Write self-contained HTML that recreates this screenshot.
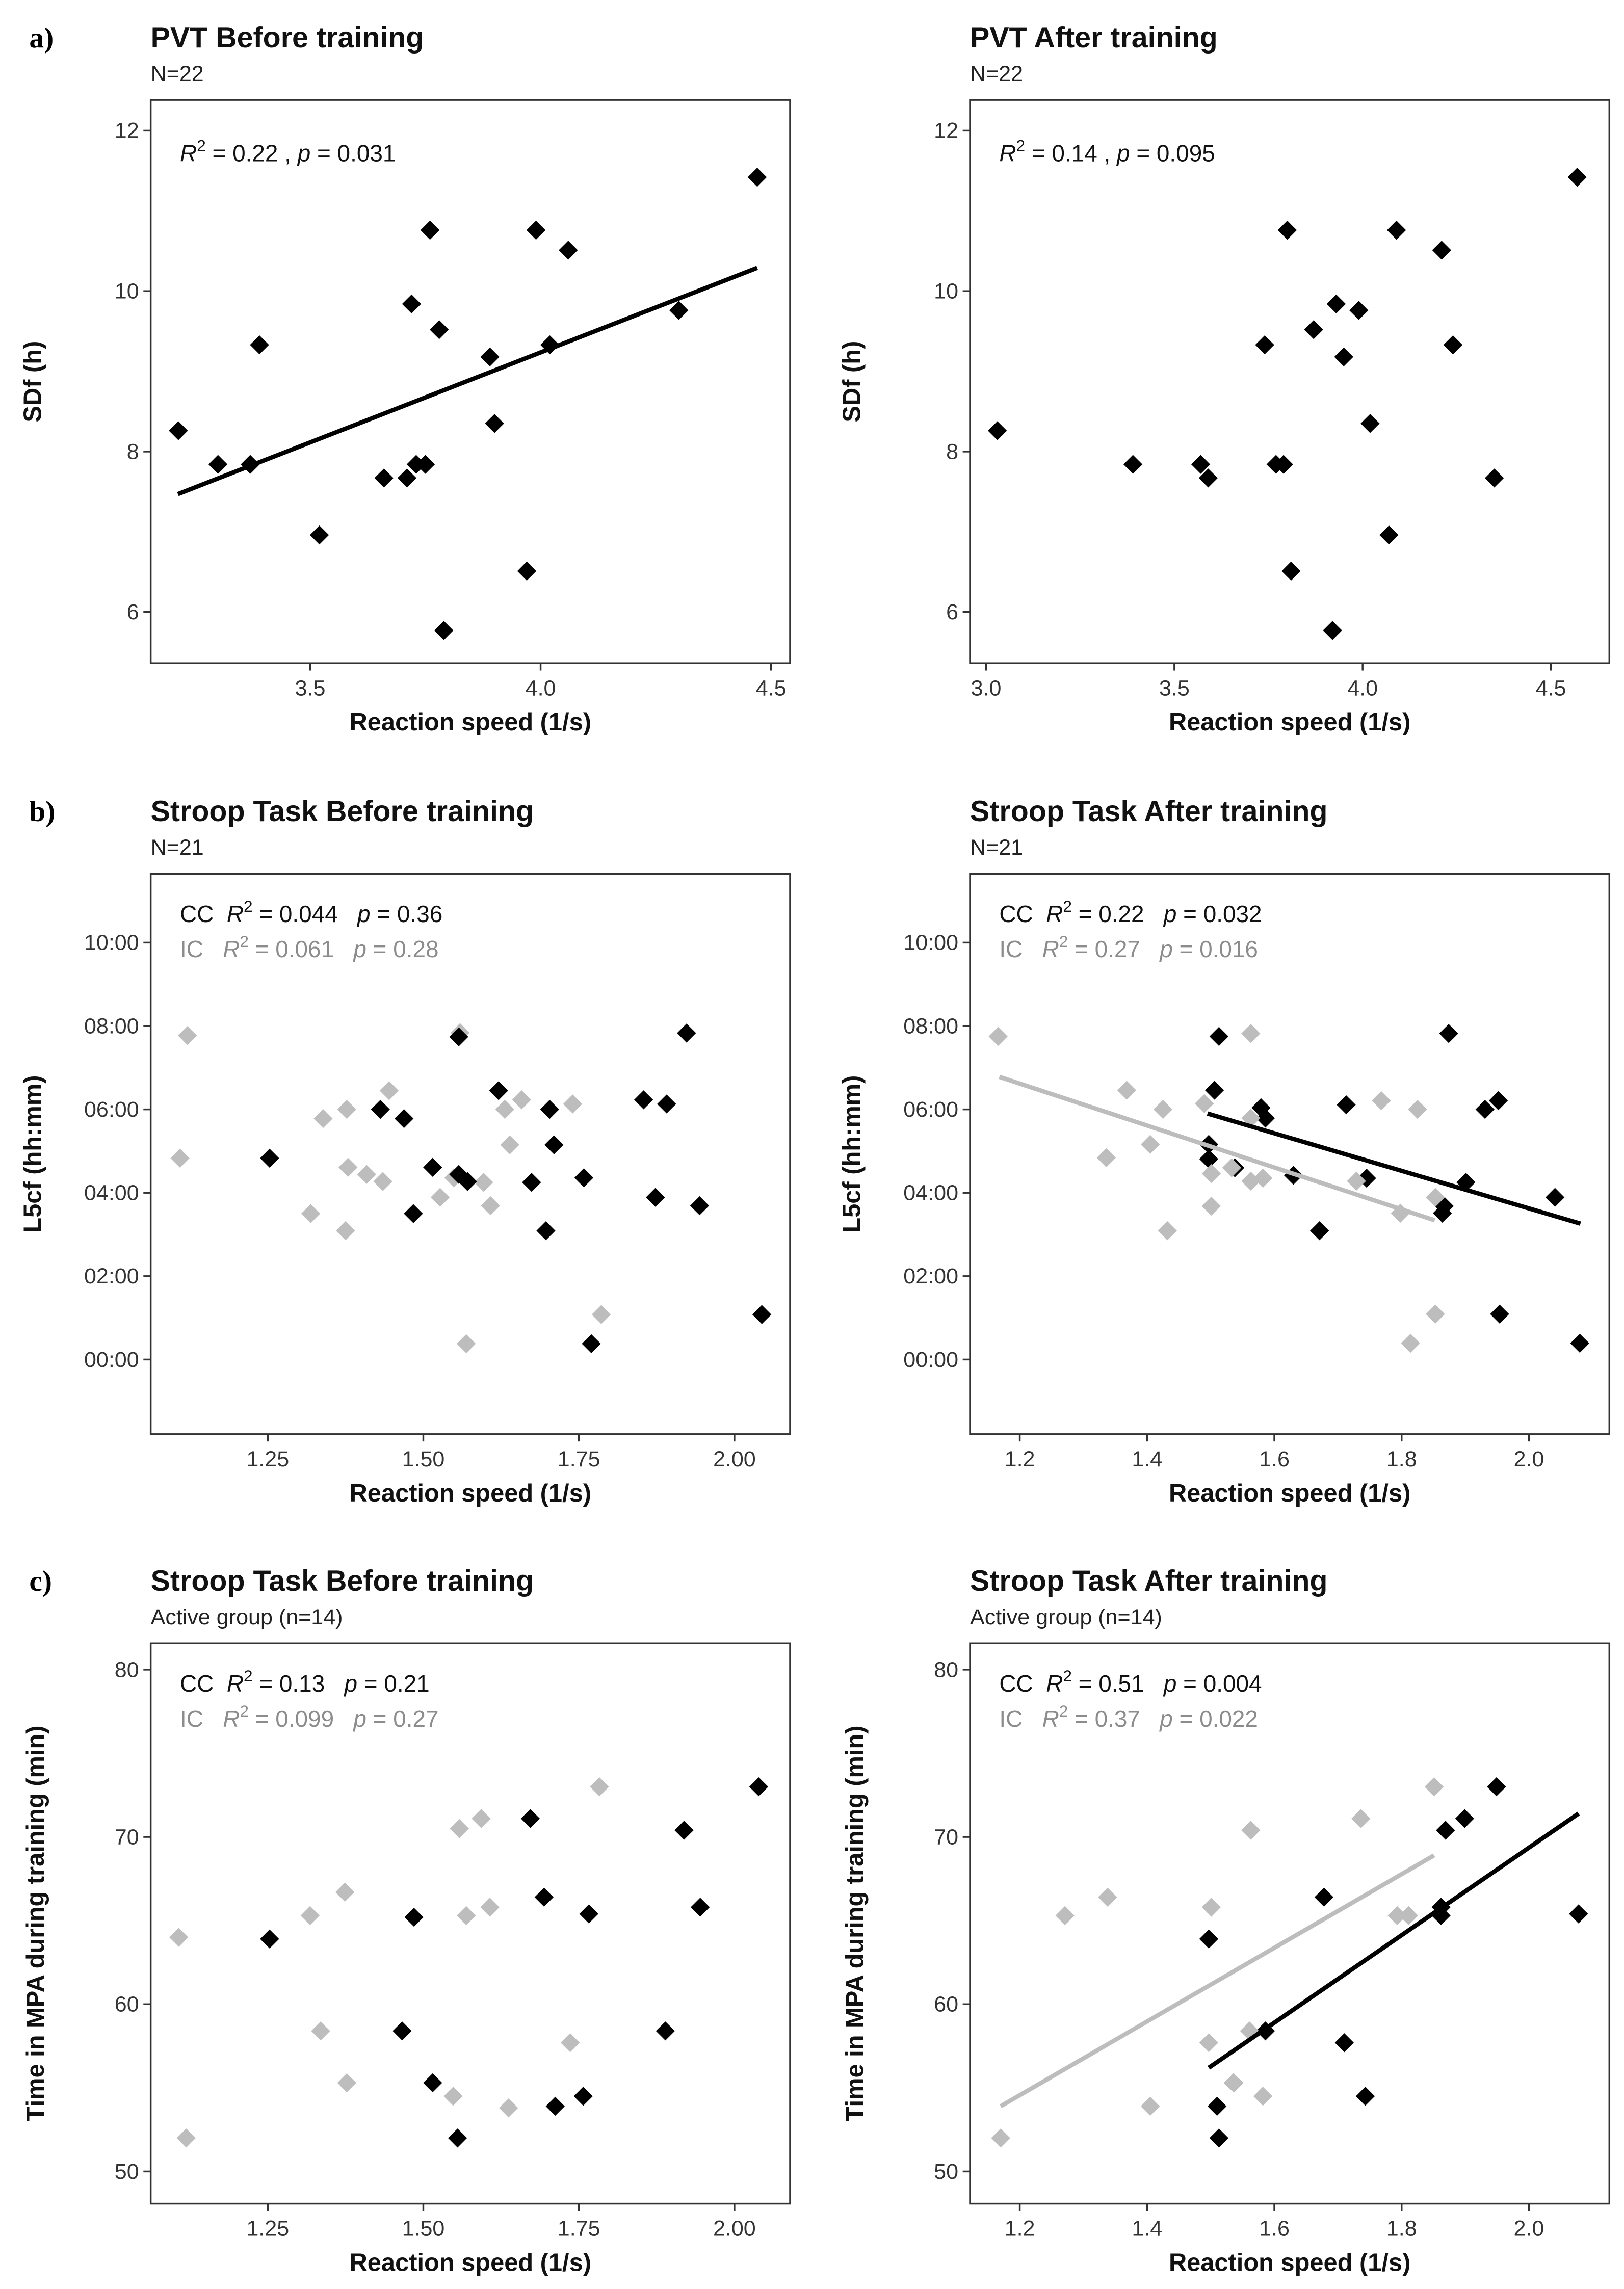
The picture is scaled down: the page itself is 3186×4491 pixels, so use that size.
<!DOCTYPE html>
<html><head><meta charset="utf-8"><style>
html,body{margin:0;padding:0;background:#fff;}
svg{display:block;font-family:"Liberation Sans",sans-serif;}
</style></head><body>
<svg id="fig" xmlns="http://www.w3.org/2000/svg" width="3186" height="4491" viewBox="0 0 1110 1564"></svg>
<script>
// ---- data ----
const aBeforeX=[3.214,3.30,3.37,3.39,3.52,3.66,3.71,3.73,3.75,3.76,3.72,3.78,3.79,3.89,3.90,3.97,3.99,4.02,4.06,4.30,4.47];
const aBeforeY=[8.26,7.84,7.84,9.33,6.96,7.67,7.67,7.84,7.84,10.76,9.84,9.52,5.77,9.18,8.35,6.51,10.76,9.33,10.51,9.76,11.42];
const aBeforeFitX=[3.213,4.47];
const aBeforeFitY=[7.47,10.29];
const aAfterX=[3.03,3.39,3.57,3.59,3.74,3.77,3.79,3.80,3.81,3.87,3.93,3.95,3.92,3.99,4.02,4.07,4.09,4.21,4.24,4.35,4.57];
const aAfterY=[8.26,7.84,7.84,7.67,9.33,7.84,7.84,10.76,6.51,9.52,9.84,9.18,5.77,9.76,8.35,6.96,10.76,10.51,9.33,7.67,11.42];
const bBeforeCCX=[1.253,1.431,1.469,1.515,1.484,1.557,1.557,1.571,1.621,1.674,1.703,1.71,1.697,1.758,1.854,1.891,1.923,1.873,1.944,2.044,1.77];
const bBeforeCCY=[4.83,6.0,5.78,4.61,3.5,7.74,4.44,4.27,6.45,4.25,6.0,5.15,3.09,4.36,6.23,6.13,7.83,3.89,3.69,1.08,0.38];
const bBeforeICX=[1.121,1.109,1.559,1.445,1.377,1.339,1.379,1.409,1.435,1.319,1.375,1.527,1.549,1.597,1.608,1.631,1.658,1.639,1.74,1.569,1.786];
const bBeforeICY=[7.77,4.83,7.84,6.45,6.0,5.78,4.61,4.44,4.27,3.5,3.09,3.89,4.36,4.25,3.69,6.0,6.23,5.15,6.13,0.38,1.08];
const bAfterCCX=[1.513,1.506,1.497,1.497,1.538,1.579,1.586,1.63,1.713,1.745,1.867,1.864,1.874,1.901,1.931,1.952,2.041,1.954,2.08,1.671];
const bAfterCCY=[7.75,6.46,5.16,4.81,4.6,6.04,5.79,4.42,6.11,4.35,3.68,3.51,7.82,4.25,6.0,6.21,3.89,1.09,0.39,3.09];
const bAfterICX=[1.166,1.336,1.368,1.405,1.425,1.432,1.49,1.501,1.501,1.533,1.563,1.563,1.563,1.582,1.729,1.768,1.798,1.825,1.853,1.853,1.814];
const bAfterICY=[7.75,4.84,6.46,5.16,6.0,3.09,6.14,4.46,3.68,4.6,7.82,5.79,4.28,4.35,4.28,6.21,3.51,6.0,3.89,1.09,0.39];
const bAfterCCFitX=[1.495,2.081];
const bAfterCCFitY=[5.90,3.26];
const bAfterICFitX=[1.168,1.852];
const bAfterICFitY=[6.78,3.34];
const cBeforeCCX=[1.253,1.466,1.485,1.515,1.555,1.672,1.694,1.712,1.757,1.766,1.889,1.919,1.945,2.039];
const cBeforeCCY=[63.9,58.4,65.2,55.3,52.0,71.1,66.4,53.9,54.5,65.4,58.4,70.4,65.8,73.0];
const cBeforeICX=[1.107,1.119,1.318,1.335,1.374,1.377,1.548,1.558,1.569,1.593,1.607,1.637,1.736,1.783];
const cBeforeICY=[64.0,52.0,65.3,58.4,66.7,55.3,54.5,70.5,65.3,71.1,65.8,53.8,57.7,73.0];
const cAfterCCX=[1.497,1.51,1.513,1.586,1.71,1.743,1.678,1.862,1.862,1.869,1.899,1.949,2.078,1.536];
const cAfterCCY=[63.9,53.9,52.0,58.4,57.7,54.5,66.4,65.3,65.8,70.4,71.1,73.0,65.4,55.3];
const cAfterICX=[1.17,1.271,1.338,1.405,1.497,1.501,1.536,1.561,1.563,1.582,1.736,1.793,1.811,1.851];
const cAfterICY=[52.0,65.3,66.4,53.9,57.7,65.8,55.3,58.4,70.4,54.5,71.1,65.3,65.3,73.0];
const cAfterCCFitX=[1.497,2.078];
const cAfterCCFitY=[56.2,71.4];
const cAfterICFitX=[1.17,1.851];
const cAfterICFitY=[53.9,68.9];
const aXTicksLeft=[3.5,4.0,4.5];
const aXTicksRight=[3.0,3.5,4.0,4.5];
const aYTicks=[6,8,10,12];
const bcXTicksLeft=[1.25,1.50,1.75,2.00];
const bcXTicksRight=[1.2,1.4,1.6,1.8,2.0];
const bYTicks=[0,2,4,6,8,10];
const cYTicks=[50,60,70,80];

const NS="http://www.w3.org/2000/svg";
const svg=document.getElementById('fig');
function mk(tag,attrs,parent,text){const e=document.createElementNS(NS,tag);for(const k in attrs)e.setAttribute(k,attrs[k]);if(text!==undefined)e.textContent=text;(parent||svg).appendChild(e);return e;}
function lin(v0,p0,v1,p1){return v=>p0+(v-v0)*(p1-p0)/(v1-v0);}
const BLACK='#000',GRAY='#bdbdbd';
function hhmm(h){return String(Math.floor(h)).padStart(2,'0')+':00';}

function panel(o){
  const g=mk('g',{});
  
  
  const [x0,y0,x1,y1]=o.box;
  const sx=lin(o.xs[0],o.xs[1],o.xs[2],o.xs[3]);
  const sy=lin(o.ys[0],o.ys[1],o.ys[2],o.ys[3]);
  const t=mk('text',{x:x0,y:y0-36,'font-size':20,'font-weight':'bold',fill:'#111'},g,o.title);
  
  
  const st=mk('text',{x:x0,y:y0-13,'font-size':15,fill:'#222'},g,o.sub);
  
  
  if(o.label){const l=mk('text',{x:20,y:y0-36,'font-size':20,'font-weight':'bold','font-family':'Liberation Serif,serif'},g,o.label);
    
    }
  const r=mk('rect',{x:x0,y:y0,width:x1-x0,height:y1-y0,fill:'none',stroke:'#333','stroke-width':1.2},g);
  
  
  o.xt.forEach(v=>{const px=sx(v);
    mk('line',{x1:px,x2:px,y1:y1,y2:y1+5,stroke:'#333','stroke-width':1.2},g);
    const tl=mk('text',{x:px,y:y1+22,'font-size':15,'text-anchor':'middle',fill:'#333'},g,o.xf(v));
    
    });
  o.yt.forEach(v=>{const py=sy(v);
    mk('line',{x1:x0-5,x2:x0,y1:py,y2:py,stroke:'#333','stroke-width':1.2},g);
    const tl=mk('text',{x:x0-8,y:py+5,'font-size':15,'text-anchor':'end',fill:'#333'},g,o.yf(v));
    
    });
  const xl=mk('text',{x:(x0+x1)/2,y:y1+46,'font-size':17,'font-weight':'bold','text-anchor':'middle',fill:'#111'},g,'Reaction speed (1/s)');
  
  
  const cy=(y0+y1)/2, cx=x0-(o.ylx||72);
  const yl=mk('text',{x:cx,y:cy,'font-size':17,'font-weight':'bold','text-anchor':'middle',fill:'#111',transform:`rotate(-90 ${cx} ${cy})`},g,o.ytitle);
  
  
  o.ann.forEach((a,i)=>{
    const tx=mk('text',{x:x0+20,y:y0+a.dy,'font-size':16,fill:a.col},g);
    
    
    tx.innerHTML=a.html;
  });
  o.series.forEach(s=>{
    s.x.forEach((v,i)=>{const px=sx(v),py=sy(s.y[i]);const d=6.5;
      const p=mk('polygon',{points:`${px},${py-d} ${px+d},${py} ${px},${py+d} ${px-d},${py}`,fill:s.col},g);
      
      });
  });
  o.fits.forEach(f=>{
    const ln=mk('line',{x1:sx(f.x[0]),y1:sy(f.y[0]),x2:sx(f.x[1]),y2:sy(f.y[1]),stroke:f.col,'stroke-width':3},g);
    
    
  });
}
const f1=v=>v.toFixed(1), f2=v=>v.toFixed(2), f0=v=>String(v);
function st(r,p,col){return `<tspan font-style="italic">R</tspan><tspan dy="-7" font-size="11">2</tspan><tspan dy="7"> = ${r}</tspan>${p}`;}
const A_TOP=68,A_BOT=453,B_TOP=597,B_BOT=980,C_TOP=1123,C_BOT=1506;
const L=[103,540],R=[663,1100];
panel({name:'panel-a-before',label:'a)',title:'PVT Before training',sub:'N=22',box:[L[0],A_TOP,L[1],A_BOT],
  xs:[3.5,212,4.5,527],ys:[12,89,6,418],xt:aXTicksLeft,yt:aYTicks,xf:f1,yf:f0,ytitle:'SDf (h)',ylx:75,
  ann:[{dy:42,col:'#111',html:st('0.22',' , <tspan font-style="italic">p</tspan> = 0.031')}],
  series:[{x:aBeforeX,y:aBeforeY,col:BLACK,pname:'point-pvt-before'}],
  fits:[{x:aBeforeFitX,y:aBeforeFitY,col:BLACK,name:'fit-line-pvt-before'}]});
panel({name:'panel-a-after',title:'PVT After training',sub:'N=22',box:[R[0],A_TOP,R[1],A_BOT],
  xs:[3.0,674,4.5,1060],ys:[12,89,6,418],xt:aXTicksRight,yt:aYTicks,xf:f1,yf:f0,ytitle:'SDf (h)',ylx:75,
  ann:[{dy:42,col:'#111',html:st('0.14',' , <tspan font-style="italic">p</tspan> = 0.095')}],
  series:[{x:aAfterX,y:aAfterY,col:BLACK,pname:'point-pvt-after'}],fits:[]});
function ccic(cc,ic){return [
  {dy:33,col:'#111',html:'CC&#160;&#160;'+st(cc[0],'&#160;&#160;&#160;<tspan font-style="italic">p</tspan> = '+cc[1])},
  {dy:57,col:'#8c8c8c',html:'IC&#160;&#160;&#160;'+st(ic[0],'&#160;&#160;&#160;<tspan font-style="italic">p</tspan> = '+ic[1])}];}
panel({name:'panel-b-before',label:'b)',title:'Stroop Task Before training',sub:'N=21',box:[L[0],B_TOP,L[1],B_BOT],
  xs:[1.25,183,2.0,502],ys:[10,644,0,929],xt:bcXTicksLeft,yt:bYTicks,xf:f2,yf:hhmm,ytitle:'L5cf (hh:mm)',ylx:75,
  ann:ccic(['0.044','0.36'],['0.061','0.28']),
  series:[{x:bBeforeICX,y:bBeforeICY,col:GRAY,pname:'point-ic'},{x:bBeforeCCX,y:bBeforeCCY,col:BLACK,pname:'point-cc'}],fits:[]});
panel({name:'panel-b-after',title:'Stroop Task After training',sub:'N=21',box:[R[0],B_TOP,R[1],B_BOT],
  xs:[1.2,697,2.0,1045],ys:[10,644,0,929],xt:bcXTicksRight,yt:bYTicks,xf:f1,yf:hhmm,ytitle:'L5cf (hh:mm)',ylx:75,
  ann:ccic(['0.22','0.032'],['0.27','0.016']),
  series:[{x:bAfterCCX,y:bAfterCCY,col:BLACK,pname:'point-cc'},{x:bAfterICX,y:bAfterICY,col:GRAY,pname:'point-ic'}],
  fits:[{x:bAfterICFitX,y:bAfterICFitY,col:GRAY,name:'fit-line-ic'},{x:bAfterCCFitX,y:bAfterCCFitY,col:BLACK,name:'fit-line-cc'}]});
panel({name:'panel-c-before',label:'c)',title:'Stroop Task Before training',sub:'Active group (n=14)',box:[L[0],C_TOP,L[1],C_BOT],
  xs:[1.25,183,2.0,502],ys:[80,1141,50,1484],xt:bcXTicksLeft,yt:cYTicks,xf:f2,yf:f0,ytitle:'Time in MPA during training (min)',ylx:73,
  ann:ccic(['0.13','0.21'],['0.099','0.27']),
  series:[{x:cBeforeICX,y:cBeforeICY,col:GRAY,pname:'point-ic'},{x:cBeforeCCX,y:cBeforeCCY,col:BLACK,pname:'point-cc'}],fits:[]});
panel({name:'panel-c-after',title:'Stroop Task After training',sub:'Active group (n=14)',box:[R[0],C_TOP,R[1],C_BOT],
  xs:[1.2,697,2.0,1045],ys:[80,1141,50,1484],xt:bcXTicksRight,yt:cYTicks,xf:f1,yf:f0,ytitle:'Time in MPA during training (min)',ylx:73,
  ann:ccic(['0.51','0.004'],['0.37','0.022']),
  series:[{x:cAfterCCX,y:cAfterCCY,col:BLACK,pname:'point-cc'},{x:cAfterICX,y:cAfterICY,col:GRAY,pname:'point-ic'}],
  fits:[{x:cAfterICFitX,y:cAfterICFitY,col:GRAY,name:'fit-line-ic'},{x:cAfterCCFitX,y:cAfterCCFitY,col:BLACK,name:'fit-line-cc'}]});
</script>
</body></html>
